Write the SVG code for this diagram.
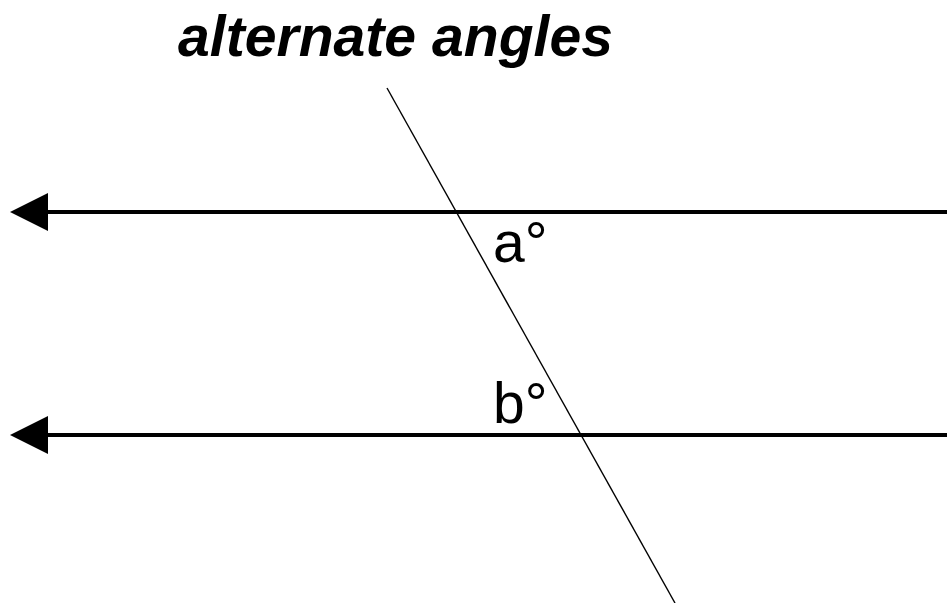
<svg xmlns="http://www.w3.org/2000/svg" width="947" height="603" viewBox="0 0 947 603">
<style>
.par{stroke:#000;stroke-width:4;fill:none}
.tr{stroke:#000;stroke-width:1.4;fill:none}
.head{fill:#000}
.lbl{font-family:"Liberation Sans",Arial,sans-serif;font-size:57px;fill:#000}
.title{font-family:"Liberation Sans",Arial,sans-serif;font-size:57px;font-weight:bold;font-style:italic;fill:#000}
</style>
<rect width="947" height="603" fill="#fff"/>
<g id="title"><text class="title" x="178" y="56" textLength="435" lengthAdjust="spacingAndGlyphs">alternate angles</text></g>
<g id="connectors">
<line id="line1" class="par" x1="947" y1="212" x2="46" y2="212"/>
<path class="head" d="M48,193 L10,212 L48,231 Z"/>
<line id="line2" class="par" x1="947" y1="435" x2="46" y2="435"/>
<path class="head" d="M48,416 L10,435 L48,454 Z"/>
<line id="transversal" class="tr" x1="387" y1="88" x2="675" y2="603"/>
</g>
<g id="label-a"><text class="lbl" x="493" y="262">a°</text></g>
<g id="label-b"><text class="lbl" x="493" y="423">b°</text></g>
</svg>
